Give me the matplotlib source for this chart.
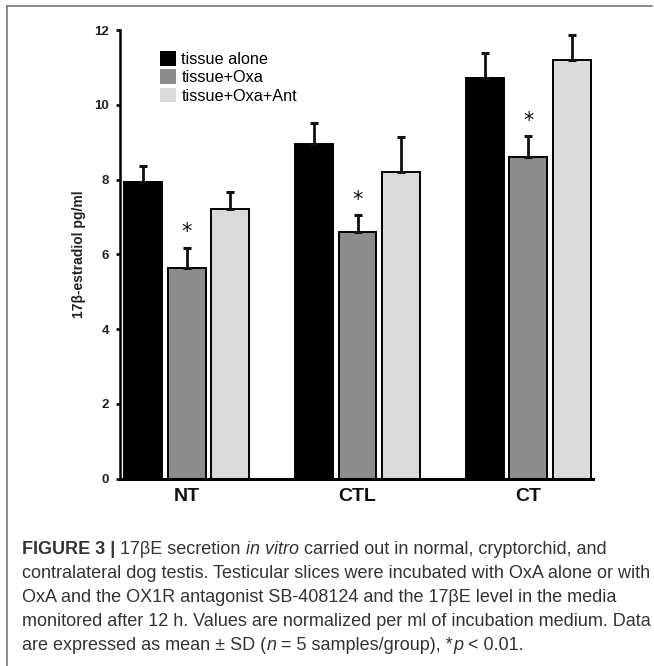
import numpy as np
import matplotlib
matplotlib.use("Agg")
import matplotlib.pyplot as plt
from matplotlib.lines import Line2D

plt.rcParams["font.family"] = ["Liberation Sans", "DejaVu Sans"]

# values (mean and upper SD)
groups = ["NT", "CTL", "CT"]
series_names = ["tissue alone", "tissue+Oxa", "tissue+Oxa+Ant"]
alone = [7.93, 8.94, 10.72]
alone_sd = [0.44, 0.58, 0.67]
oxa = [5.63, 6.60, 8.61]
oxa_sd = [0.54, 0.44, 0.55]
ant = [7.21, 8.21, 11.19]
ant_sd = [0.46, 0.93, 0.67]
star_series = [False, True, False]
yticks = [0, 2, 4, 6, 8, 10, 12]

colors = ["#000000", "#8c8c8c", "#dadada"]

fig = plt.figure(figsize=(6.54, 6.66), dpi=100)
ax = fig.add_axes([0.1835, 0.2812, 0.7232, 0.6737])

x = np.arange(len(groups))
step = 0.253
width = 0.222
means = [alone, oxa, ant]
sds = [alone_sd, oxa_sd, ant_sd]

for i, (m, s) in enumerate(zip(means, sds)):
    pos = x + (i - 1) * step
    ax.bar(pos, m, width, color=colors[i], edgecolor="black", linewidth=1.4,
           label=series_names[i], zorder=2)
    ax.errorbar(pos, m, yerr=[np.zeros(len(m)), s], fmt="none", ecolor="#111111",
                elinewidth=2.0, capsize=3.2, capthick=2.2, zorder=3)
    if star_series[i]:
        for px, mv, sv in zip(pos, m, s):
            ax.text(px, mv + sv + 0.42, "*", ha="center", va="center",
                    fontsize=15, color="#111111", family="DejaVu Sans")

ax.set_xlim(-0.39, 2.378)
ax.set_ylim(0, 12)
ax.set_yticks(yticks)
ax.set_yticklabels([str(t) for t in yticks], fontsize=9.5, fontweight="bold", color="#222222")
ax.set_xticks(x)
ax.set_xticklabels(groups, fontsize=14, fontweight="bold", color="#111111")
ax.tick_params(axis="x", length=0, pad=7)
ax.tick_params(axis="y", length=3, width=2, pad=5, color="#111111")
ax.set_ylabel("17β-estradiol pg/ml", fontsize=10, fontweight="bold", color="#222222", labelpad=6)

for side in ["top", "right"]:
    ax.spines[side].set_visible(False)
ax.spines["left"].set_linewidth(1.8)
ax.spines["bottom"].set_linewidth(2.2)

leg = ax.legend(loc="upper left", bbox_to_anchor=(0.085, 0.953), frameon=False,
                fontsize=11.7, handlelength=1.0, handleheight=1.0, handletextpad=0.3,
                labelspacing=0.15, borderpad=0, borderaxespad=0)
for h in leg.legend_handles:
    h.set_edgecolor("none")

# figure frame (top and left rules)
fig.add_artist(Line2D([7 / 654, 652 / 654], [1 - 6 / 666, 1 - 6 / 666], color="#777777", lw=1.2))
fig.add_artist(Line2D([7 / 654, 7 / 654], [1 - 6 / 666, 0], color="#777777", lw=1.2))

# caption, drawn piece by piece so bold and italic parts follow each other
caption = [
    [("FIGURE 3 | ", "bold"), ("17βE secretion ", "normal"), ("in vitro", "italic"),
     (" carried out in normal, cryptorchid, and", "normal")],
    [("contralateral dog testis. Testicular slices were incubated with OxA alone or with", "normal")],
    [("OxA and the OX1R antagonist SB-408124 and the 17βE level in the media", "normal")],
    [("monitored after 12 h. Values are normalized per ml of incubation medium. Data", "normal")],
    [("are expressed as mean ± SD (", "normal"), ("n", "italic"), (" = 5 samples/group), *", "normal"),
     ("p", "italic"), (" < 0.01.", "normal")],
]
line_y = [549, 573, 597, 621, 645]
renderer = fig.canvas.get_renderer()
for segs, ly in zip(caption, line_y):
    xpos = 22
    for txt, style in segs:
        kw = dict(fontsize=13.0, color="#333333", va="center", ha="left")
        if style == "bold":
            kw["fontweight"] = "bold"
        elif style == "italic":
            kw["fontstyle"] = "italic"
        t = fig.text(xpos / 654, 1 - ly / 666, txt, **kw)
        xpos += t.get_window_extent(renderer).width

fig.savefig("out.png", dpi=100)
